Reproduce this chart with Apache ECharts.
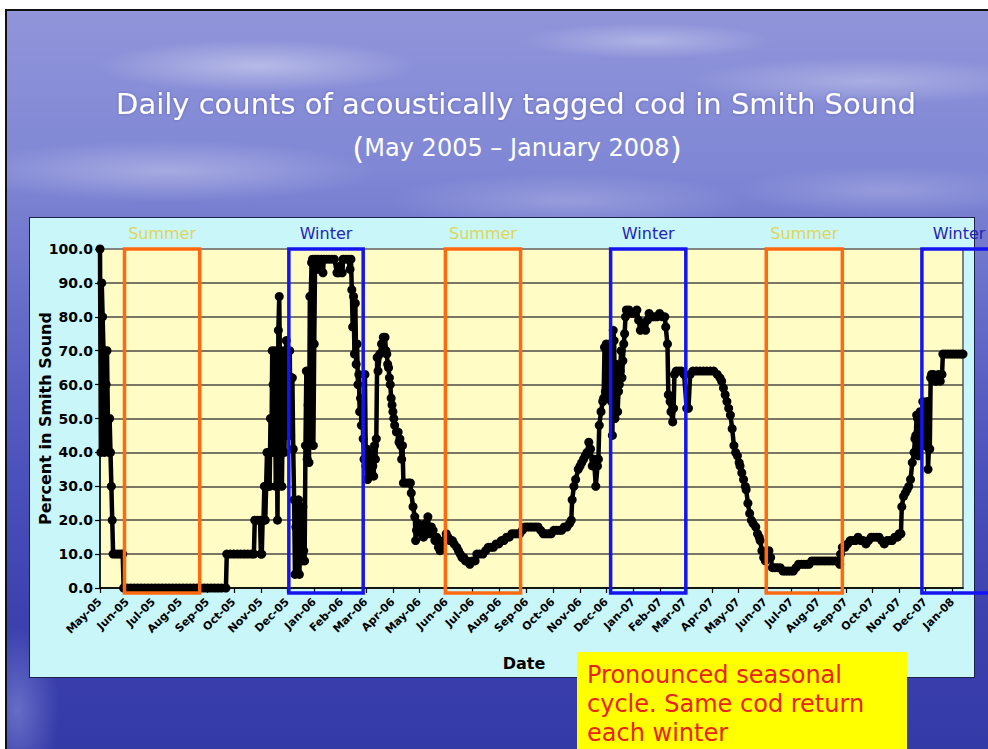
<!DOCTYPE html>
<html>
<head>
<meta charset="utf-8">
<title>Daily counts of acoustically tagged cod in Smith Sound</title>
<script src="https://cdn.jsdelivr.net/npm/echarts@6/dist/echarts.min.js"></script>
<style>
  html, body { margin: 0; padding: 0; width: 988px; height: 749px; overflow: hidden; background: #ffffff; }
  /* slide backdrop: blue sky with soft cloud wisps */
  #slide {
    position: absolute; left: 5px; top: 9px; width: 983px; height: 740px;
    box-sizing: border-box; border-top: 2px solid #111; border-left: 2px solid #111;
    background:
      radial-gradient(ellipse 230px 38px at 250px 55px, rgba(255,255,255,0.38), rgba(255,255,255,0) 70%),
      radial-gradient(ellipse 180px 26px at 640px 30px, rgba(255,255,255,0.30), rgba(255,255,255,0) 70%),
      radial-gradient(ellipse 260px 34px at 860px 70px, rgba(255,255,255,0.28), rgba(255,255,255,0) 70%),
      radial-gradient(ellipse 300px 45px at 160px 160px, rgba(255,255,255,0.30), rgba(255,255,255,0) 70%),
      radial-gradient(ellipse 260px 40px at 560px 190px, rgba(255,255,255,0.22), rgba(255,255,255,0) 70%),
      radial-gradient(ellipse 220px 36px at 880px 180px, rgba(255,255,255,0.20), rgba(255,255,255,0) 70%),
      radial-gradient(ellipse 60px 120px at 10px 700px, rgba(190,200,255,0.35), rgba(190,200,255,0) 70%),
      linear-gradient(180deg, #9095da 0%, #7f86d4 22%, #666dc8 40%, #4c52bb 62%, #3c41af 82%, #343aa6 100%);
  }
  #panel {
    position: absolute; left: 29px; top: 217px; width: 946px; height: 461px;
    box-sizing: border-box; background: #c9f6f9; border: 1px solid #1c1f4a;
  }
  #chart { position: absolute; left: 0; top: 0; width: 988px; height: 749px; }
</style>
</head>
<body>
<div id="slide"></div>
<div id="panel"></div>
<div id="chart"></div>
<script>
// ---- text ----
const chartTitle = 'Daily counts of acoustically tagged cod in Smith Sound';
const chartSubtitle = 'May 2005 \u2013 January 2008';
const yAxisTitle = 'Percent in Smith Sound';
const xAxisTitle = 'Date';
const noteLines = ['Pronounced seasonal', 'cycle. Same cod return', 'each winter'];

// ---- month tick labels on the date axis ----
const monthLabels = ['May-05','Jun-05','Jul-05','Aug-05','Sep-05','Oct-05','Nov-05','Dec-05',
  'Jan-06','Feb-06','Mar-06','Apr-06','May-06','Jun-06','Jul-06','Aug-06','Sep-06','Oct-06','Nov-06','Dec-06',
  'Jan-07','Feb-07','Mar-07','Apr-07','May-07','Jun-07','Jul-07','Aug-07','Sep-07','Oct-07','Nov-07','Dec-07',
  'Jan-08'];
const axisStart = '2005-05-01';
const axisEnd = '2008-01-13';

// ---- seasons marked on the chart ----
const seasonLabels = ['Summer', 'Winter', 'Summer', 'Winter', 'Summer', 'Winter'];
const seasonStart = ['2005-05-29', '2005-12-03', '2006-05-31', '2006-12-06', '2007-06-02', '2007-11-27'];
const seasonEnd   = ['2005-08-23', '2006-02-26', '2006-08-25', '2007-03-02', '2007-08-28', '2008-02-20'];

// ---- daily percent of tagged cod present in Smith Sound ----
const spring2005 = [
  ['2005-05-01',100],['2005-05-02',40],['2005-05-03',90],['2005-05-04',80],['2005-05-05',70],
  ['2005-05-06',40],['2005-05-07',70],['2005-05-08',60],['2005-05-09',70],['2005-05-10',50],
  ['2005-05-11',40],['2005-05-12',50],['2005-05-13',40],['2005-05-14',30],['2005-05-15',20],
  ['2005-05-16',10],['2005-05-19',10],['2005-05-22',10],['2005-05-25',10],['2005-05-27',10],
  ['2005-05-28',0],['2005-06-01',0],['2005-06-05',0],['2005-06-09',0],['2005-06-13',0],
  ['2005-06-17',0],['2005-06-21',0],['2005-06-25',0],['2005-06-29',0],['2005-07-03',0],
  ['2005-07-07',0],['2005-07-11',0],['2005-07-15',0],['2005-07-19',0],['2005-07-23',0],
  ['2005-07-27',0],['2005-07-31',0],['2005-08-04',0],['2005-08-08',0],['2005-08-12',0],
  ['2005-08-16',0],['2005-08-20',0],['2005-08-24',0],['2005-08-28',0],['2005-09-01',0],
  ['2005-09-05',0],['2005-09-09',0],['2005-09-13',0],['2005-09-17',0],['2005-09-22',0]
];
const autumn2005 = [
  ['2005-09-23',10],['2005-09-27',10],['2005-10-01',10],['2005-10-05',10],['2005-10-09',10],
  ['2005-10-13',10],['2005-10-17',10],['2005-10-21',10],['2005-10-24',10],['2005-10-25',20],
  ['2005-10-28',20],['2005-10-31',20],['2005-11-01',10],['2005-11-02',10],['2005-11-03',20],
  ['2005-11-04',20],['2005-11-05',30],['2005-11-06',20],['2005-11-07',30],['2005-11-08',40],
  ['2005-11-09',30],['2005-11-10',40],['2005-11-11',30],['2005-11-12',50],['2005-11-13',40],
  ['2005-11-14',70],['2005-11-15',60],['2005-11-16',40],['2005-11-17',70],['2005-11-18',30],
  ['2005-11-19',50],['2005-11-20',20],['2005-11-21',76],['2005-11-22',86],['2005-11-23',60],
  ['2005-11-24',40],['2005-11-25',30],['2005-11-26',50],['2005-11-27',70],['2005-11-28',40],
  ['2005-11-29',60],['2005-11-30',73],['2005-12-01',45],['2005-12-02',70],['2005-12-03',50],
  ['2005-12-04',70],['2005-12-05',45],['2005-12-06',62],['2005-12-07',62],['2005-12-08',41]
];
const winter2006 = [
  ['2005-12-09',26],['2005-12-10',4],['2005-12-11',18],['2005-12-12',22],['2005-12-13',10],
  ['2005-12-14',26],['2005-12-15',4],['2005-12-16',14],['2005-12-17',22],['2005-12-18',8],
  ['2005-12-19',24],['2005-12-20',11],['2005-12-21',8],['2005-12-22',42],['2005-12-23',64],
  ['2005-12-24',38],['2005-12-25',54],['2005-12-26',37],['2005-12-27',86],['2005-12-28',86],
  ['2005-12-29',96],['2005-12-30',97],['2005-12-31',42],['2006-01-01',72],['2006-01-02',97],
  ['2006-01-04',97],['2006-01-05',94],['2006-01-06',97],['2006-01-09',97],['2006-01-11',93],
  ['2006-01-12',97],['2006-01-15',97],['2006-01-18',97],['2006-01-21',97],['2006-01-24',97],
  ['2006-01-27',93],['2006-01-29',93],['2006-01-31',95],['2006-02-02',93],['2006-02-03',97],
  ['2006-02-06',97],['2006-02-09',97],['2006-02-11',94],['2006-02-12',97],['2006-02-13',88],
  ['2006-02-14',77],['2006-02-15',86],['2006-02-16',69],['2006-02-17',84],['2006-02-18',66],
  ['2006-02-19',72],['2006-02-20',60],['2006-02-21',63],['2006-02-22',52],['2006-02-23',56],
  ['2006-02-24',48],['2006-02-25',53],['2006-02-26',44],['2006-02-27',38],['2006-02-28',63]
];
const spring2006 = [
  ['2006-03-01',36],['2006-03-02',41],['2006-03-03',32],['2006-03-04',38],['2006-03-05',40],
  ['2006-03-06',33],['2006-03-07',34],['2006-03-08',39],['2006-03-09',36],['2006-03-10',33],
  ['2006-03-11',42],['2006-03-12',38],['2006-03-13',44],['2006-03-14',68],['2006-03-15',64],
  ['2006-03-17',69],['2006-03-19',72],['2006-03-21',74],['2006-03-23',74],['2006-03-24',70],
  ['2006-03-25',69],['2006-03-26',66],['2006-03-27',65],['2006-03-28',62],['2006-03-29',60],
  ['2006-03-30',56],['2006-03-31',54],['2006-04-01',52],['2006-04-02',50],['2006-04-03',48],
  ['2006-04-05',46],['2006-04-07',46],['2006-04-08',43],['2006-04-09',44],['2006-04-10',42],
  ['2006-04-11',38],['2006-04-12',42],['2006-04-13',31],['2006-04-16',31],['2006-04-19',31],
  ['2006-04-21',31],['2006-04-22',28],['2006-04-24',24],['2006-04-26',21],['2006-04-27',14],
  ['2006-04-28',17],['2006-04-30',19],['2006-05-02',18],['2006-05-04',16],['2006-05-06',15],
  ['2006-05-08',19],['2006-05-10',17],['2006-05-11',21],['2006-05-13',16],['2006-05-15',18],
  ['2006-05-17',17],['2006-05-19',14],['2006-05-21',15],['2006-05-23',12],['2006-05-25',11],
  ['2006-05-27',13],['2006-05-29',14],['2006-06-01',16],['2006-06-03',15],['2006-06-05',14]
];
const summer2006 = [
  ['2006-06-08',14],['2006-06-10',13],['2006-06-13',12],['2006-06-15',11],['2006-06-17',10],
  ['2006-06-19',9],['2006-06-21',9],['2006-06-23',8],['2006-06-25',8],['2006-06-28',7],
  ['2006-07-01',8],['2006-07-04',8],['2006-07-06',10],['2006-07-09',10],['2006-07-13',10],
  ['2006-07-16',11],['2006-07-19',12],['2006-07-22',12],['2006-07-25',12],['2006-07-28',13],
  ['2006-07-31',13],['2006-08-03',14],['2006-08-06',14],['2006-08-09',15],['2006-08-12',15],
  ['2006-08-15',16],['2006-08-18',16],['2006-08-21',16],['2006-08-24',16],['2006-08-27',17],
  ['2006-08-30',18],['2006-09-02',18],['2006-09-05',18],['2006-09-08',18],['2006-09-11',18],
  ['2006-09-14',18],['2006-09-17',17],['2006-09-20',16],['2006-09-23',16],['2006-09-26',16],
  ['2006-09-29',16],['2006-10-02',17],['2006-10-05',17],['2006-10-08',17],['2006-10-11',17],
  ['2006-10-14',18],['2006-10-17',18],['2006-10-20',19],['2006-10-22',20],['2006-10-23',26],
  ['2006-10-25',30],['2006-10-27',32],['2006-10-30',35],['2006-11-01',36],['2006-11-03',37],
  ['2006-11-05',38],['2006-11-07',39],['2006-11-09',40],['2006-11-11',43],['2006-11-13',41],
  ['2006-11-15',36],['2006-11-17',38],['2006-11-19',30],['2006-11-21',36],['2006-11-22',38],
  ['2006-11-23',48],['2006-11-25',52],['2006-11-27',55],['2006-11-28',56]
];
const winter2007 = [
  ['2006-11-29',71],['2006-11-30',58],['2006-12-01',72],['2006-12-02',60],['2006-12-03',66],
  ['2006-12-04',56],['2006-12-05',72],['2006-12-06',62],['2006-12-07',55],['2006-12-08',45],
  ['2006-12-09',76],['2006-12-10',73],['2006-12-11',50],['2006-12-12',66],['2006-12-13',61],
  ['2006-12-14',52],['2006-12-15',58],['2006-12-16',60],['2006-12-17',64],['2006-12-18',70],
  ['2006-12-19',62],['2006-12-20',67],['2006-12-21',72],['2006-12-22',75],['2006-12-23',80],
  ['2006-12-24',82],['2006-12-27',82],['2006-12-30',81],['2007-01-02',81],['2007-01-05',82],
  ['2007-01-07',79],['2007-01-09',76],['2007-01-11',77],['2007-01-13',78],['2007-01-15',76],
  ['2007-01-17',79],['2007-01-19',81],['2007-01-22',80],['2007-01-25',80],['2007-01-28',80],
  ['2007-01-31',81],['2007-02-03',80],['2007-02-06',80],['2007-02-07',77],['2007-02-09',72],
  ['2007-02-10',57],['2007-02-12',55],['2007-02-13',52],['2007-02-15',49],['2007-02-16',53],
  ['2007-02-17',63],['2007-02-19',64],['2007-02-22',64],['2007-02-25',64],['2007-02-28',63],
  ['2007-03-03',53],['2007-03-05',53],['2007-03-07',63],['2007-03-10',64],['2007-03-14',64],
  ['2007-03-18',64],['2007-03-22',64],['2007-03-26',64],['2007-03-30',64],['2007-04-03',64]
];
const spring2007 = [
  ['2007-04-07',63],['2007-04-10',62],['2007-04-12',61],['2007-04-14',59],['2007-04-16',57],
  ['2007-04-18',55],['2007-04-20',53],['2007-04-22',51],['2007-04-24',47],['2007-04-26',42],
  ['2007-04-28',40],['2007-04-30',39],['2007-05-02',37],['2007-05-03',36],['2007-05-05',34],
  ['2007-05-07',32],['2007-05-09',30],['2007-05-10',29],['2007-05-12',25],['2007-05-14',22],
  ['2007-05-16',20],['2007-05-18',19],['2007-05-21',18],['2007-05-23',16],['2007-05-25',15],
  ['2007-05-26',14],['2007-05-28',11],['2007-05-30',9],['2007-06-01',8],['2007-06-03',10],
  ['2007-06-05',11],['2007-06-07',9],['2007-06-09',6],['2007-06-12',6],['2007-06-15',6],
  ['2007-06-18',6],['2007-06-21',5],['2007-06-24',5],['2007-06-27',5],['2007-06-30',5],
  ['2007-07-03',5],['2007-07-06',6],['2007-07-09',7],['2007-07-12',7],['2007-07-15',7],
  ['2007-07-18',7],['2007-07-21',7],['2007-07-24',8],['2007-07-27',8],['2007-07-30',8],
  ['2007-08-02',8],['2007-08-05',8],['2007-08-08',8],['2007-08-11',8],['2007-08-14',8],
  ['2007-08-17',8],['2007-08-20',8],['2007-08-23',8],['2007-08-25',7]
];
const autumn2007 = [
  ['2007-08-26',10],['2007-08-28',12],['2007-08-31',12],['2007-09-03',13],['2007-09-06',14],
  ['2007-09-09',14],['2007-09-12',14],['2007-09-15',15],['2007-09-18',14],['2007-09-21',14],
  ['2007-09-24',13],['2007-09-27',14],['2007-09-30',15],['2007-10-03',15],['2007-10-06',15],
  ['2007-10-09',15],['2007-10-12',14],['2007-10-15',13],['2007-10-18',14],['2007-10-21',14],
  ['2007-10-24',14],['2007-10-27',15],['2007-10-30',15],['2007-11-01',16],['2007-11-03',16],
  ['2007-11-04',24],['2007-11-06',27],['2007-11-08',28],['2007-11-10',29],['2007-11-12',30],
  ['2007-11-14',32],['2007-11-16',37],['2007-11-18',40],['2007-11-19',44],['2007-11-20',45],
  ['2007-11-21',51],['2007-11-22',50],['2007-11-23',39],['2007-11-24',46],['2007-11-25',52],
  ['2007-11-26',42],['2007-11-27',47],['2007-11-28',55],['2007-11-29',42],['2007-11-30',50],
  ['2007-12-01',42],['2007-12-02',44],['2007-12-03',55],['2007-12-04',35],['2007-12-05',41],
  ['2007-12-06',41],['2007-12-07',62],['2007-12-08',63],['2007-12-10',63],['2007-12-12',61],
  ['2007-12-14',61],['2007-12-16',63],['2007-12-18',61],['2007-12-20',63],['2007-12-21',69],
  ['2007-12-24',69],['2007-12-27',69],['2007-12-30',69],['2008-01-02',69],['2008-01-05',69],
  ['2008-01-08',69],['2008-01-11',69],['2008-01-13',69]
];

// ---- helpers ----
function toTime(s) {
  const p = s.split('-').map(Number);
  return new Date(p[0], p[1] - 1, p[2]).getTime();
}
const monthNames = ['Jan','Feb','Mar','Apr','May','Jun','Jul','Aug','Sep','Oct','Nov','Dec'];
function labelToTime(label) {
  const parts = label.split('-');
  return new Date(2000 + Number(parts[1]), monthNames.indexOf(parts[0]), 1).getTime();
}
const monthTicks = monthLabels.map(labelToTime);
function labelFor(v) {
  // nearest month start to the tick value
  let best = 0;
  for (let i = 1; i < monthTicks.length; i++) {
    if (Math.abs(monthTicks[i] - v) < Math.abs(monthTicks[best] - v)) best = i;
  }
  return monthLabels[best];
}

const observations = [].concat(spring2005, autumn2005, winter2006, spring2006, summer2006,
  winter2007, spring2007, autumn2007).map(function (d) { return [toTime(d[0]), d[1]]; });

const seasonData = seasonStart.map(function (s, i) { return [toTime(s), toTime(seasonEnd[i]), 100]; });
const boxFloor = -1.5;   // boxes reach just below the zero line
const seasonStroke = { Summer: '#ff6a10', Winter: '#1414f0' };
const seasonText = { Summer: '#ddd65c', Winter: '#2424b4' };

const font = '"DejaVu Sans", Verdana, sans-serif';

const chart = echarts.init(document.getElementById('chart'), null, { renderer: 'svg', width: 988, height: 749 });

chart.setOption({
  animation: false,
  backgroundColor: 'transparent',
  title: [
    {
      text: chartTitle, left: 511, top: 84, textAlign: 'center',
      textStyle: { color: '#ffffff', fontSize: 29, fontWeight: 'normal', fontFamily: font,
        textShadowColor: 'rgba(40,40,120,0.35)', textShadowBlur: 3 }
    },
    {
      text: '{p|(}' + chartSubtitle + '{p|)}', left: 512, top: 127, textAlign: 'center',
      textStyle: {
        color: '#ffffff', fontSize: 24, fontWeight: 'normal', fontFamily: font,
        rich: { p: { fontSize: 31, color: '#ffffff', fontFamily: font } }
      }
    }
  ],
  grid: {
    left: 100, right: 25, top: 249, bottom: 161,
    show: true, backgroundColor: '#fffcc6', borderColor: '#7f7f7f', borderWidth: 2
  },
  xAxis: {
    type: 'value',
    min: toTime(axisStart), max: toTime(axisEnd),
    name: xAxisTitle, nameLocation: 'middle', nameGap: 67,
    nameTextStyle: { fontFamily: font, fontWeight: 'bold', fontSize: 16, color: '#000', padding: [0, 15, 0, 0] },
    axisLine: { show: true, onZero: false, lineStyle: { color: '#000', width: 1.5 } },
    axisTick: { show: true, length: 5, lineStyle: { color: '#000', width: 1.2 }, customValues: monthTicks },
    axisLabel: {
      customValues: monthTicks, rotate: 45, margin: 12,
      fontFamily: font, fontWeight: 'bold', fontSize: 11, color: '#000',
      formatter: function (v) { return labelFor(v); }
    },
    splitLine: { show: false }
  },
  yAxis: {
    type: 'value', min: 0, max: 100, interval: 10,
    name: yAxisTitle, nameLocation: 'middle', nameGap: 47, nameRotate: 90, nameMoveOverlap: false,
    nameTextStyle: { fontFamily: font, fontWeight: 'bold', fontSize: 16, color: '#000' },
    axisLine: { show: true, lineStyle: { color: '#000', width: 1.5 } },
    axisTick: { show: true, inside: false, length: 5, lineStyle: { color: '#000', width: 1.2 } },
    axisLabel: {
      margin: 7, fontFamily: font, fontWeight: 'bold', fontSize: 14, color: '#000',
      formatter: function (v) { return v.toFixed(1); }
    },
    splitLine: {
      show: true,
      lineStyle: { width: 1.6, color: ['#4b4b46','#4b4b46','#4b4b46','#4b4b46','#4b4b46','#4b4b46',
        '#4b4b46','#4b4b46','#4b4b46','#4b4b46','#858580'] }
    }
  },
  series: [
    {
      name: 'Percent in Smith Sound',
      type: 'line',
      data: observations,
      clip: false,
      showAllSymbol: true,
      symbol: 'circle',
      symbolSize: 9,
      itemStyle: { color: '#000' },
      lineStyle: { color: '#000', width: 4.5 },
      z: 3
    },
    {
      name: 'Seasons',
      type: 'custom',
      data: seasonData,
      encode: { x: [0, 1], y: 2 },
      clip: false,
      z: 5,
      renderItem: function (params, api) {
        const label = seasonLabels[params.dataIndex];
        const tl = api.coord([api.value(0), 100]);
        const br = api.coord([api.value(1), boxFloor]);
        return {
          type: 'group',
          children: [
            {
              type: 'rect',
              shape: { x: tl[0], y: tl[1], width: br[0] - tl[0], height: br[1] - tl[1] },
              style: { fill: 'none', stroke: seasonStroke[label], lineWidth: 3.5 }
            },
            {
              type: 'text',
              x: (tl[0] + br[0]) / 2, y: tl[1] - 16,
              style: { text: label, fill: seasonText[label], font: '16px ' + font,
                align: 'center', verticalAlign: 'middle' }
            }
          ]
        };
      }
    }
  ],
  graphic: [
    { type: 'rect', shape: { x: 577, y: 652, width: 330, height: 100 }, style: { fill: '#ffff00' }, z: 50 },
    {
      type: 'text', x: 587, y: 660, z: 51,
      style: { text: noteLines.join('\n'), font: '24px ' + font, fill: '#e8231a',
        lineHeight: 29, verticalAlign: 'top' }
    }
  ]
});
</script>
</body>
</html>
